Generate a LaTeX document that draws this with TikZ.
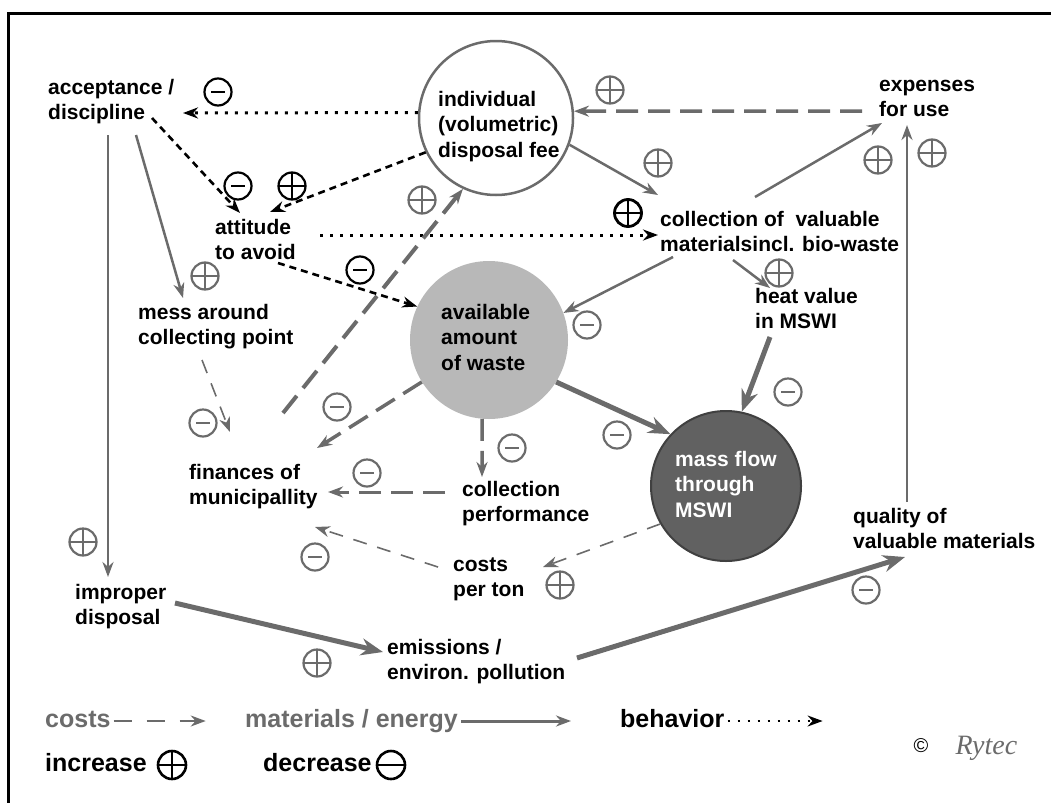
\documentclass[tikz,border=0pt]{standalone}
\usepackage{fontspec}
\setmainfont{Liberation Sans}
\newfontfamily\sigfont{Liberation Serif}
\usetikzlibrary{arrows.meta}
\definecolor{linegray}{gray}{0.42}
\definecolor{wastegray}{gray}{0.72}
\definecolor{massgray}{gray}{0.38}
\definecolor{massedge}{gray}{0.25}
\newcommand{\txtrows}[1]{\begin{tabular}[t]{@{}l@{}}#1\end{tabular}}

\begin{document}
\begin{tikzpicture}[x=1pt,y=-1pt,>={Stealth[length=15pt,width=11pt]}]
\tikzstyle{lbl}=[anchor=base west,inner sep=0pt,font=\bfseries\fontsize{21}{25.5}\selectfont]
\tikzstyle{legend}=[anchor=base west,inner sep=0pt,font=\bfseries\fontsize{25}{30}\selectfont]
\tikzstyle{sgn}=[circle,draw,line width=2.2pt,minimum size=27pt,inner sep=0pt]
\tikzstyle{incr}=[sgn,path picture={\draw[line width=2.4pt] (path picture bounding box.center) ++(-14,0) -- ++(28,0) (path picture bounding box.center) ++(0,-14) -- ++(0,28);}]
\tikzstyle{decr}=[sgn,path picture={\draw[line width=2.8pt] (path picture bounding box.center) ++(-7,0) -- ++(14,0);}]
\tikzstyle{gs}=[color=linegray]
\tikzstyle{mat}=[->,draw=linegray,line width=2.5pt]
\tikzstyle{matbig}=[-{Stealth[length=22pt,width=17pt]},draw=linegray,line width=5pt]
\tikzstyle{cost}=[->,draw=linegray,line width=3.5pt,dash pattern=on 22pt off 10pt]
\tikzstyle{costthin}=[->,draw=linegray,line width=1.6pt,dash pattern=on 14pt off 11pt]
\tikzstyle{behav}=[->,line width=3pt,dash pattern=on 3pt off 7pt]
\tikzstyle{behavdash}=[->,line width=2.6pt,dash pattern=on 7pt off 5pt]
\useasboundingbox (0,0) rectangle (1051,803);
\draw[line width=3pt] (1051,13) -- (8,13) -- (8,803);

\node[lbl] (acc) at (48,94) {\txtrows{acceptance /\\discipline}};
\node[lbl] (att) at (215,234) {\txtrows{attitude\\to avoid}};
\node[lbl] (mess) at (138,319) {\txtrows{mess around\\collecting point}};
\node[lbl] (fin) at (189,479) {\txtrows{finances of\\municipallity}};
\node[lbl] (imp) at (75,599) {\txtrows{improper\\disposal}};
\node[lbl] (emi) at (387,654) {\txtrows{emissions /\\environ. pollution}};
\node[lbl] (ton) at (453,571) {\txtrows{costs\\per ton}};
\node[lbl] (perf) at (462,496) {\txtrows{collection\\performance}};
\node[lbl] (coll) at (660,226) {\txtrows{collection of\ \ valuable\\materialsincl. bio-waste}};
\node[lbl] (heat) at (755,303) {\txtrows{heat value\\in MSWI}};
\node[lbl] (exp) at (879,91) {\txtrows{expenses\\for use}};
\node[lbl] (qual) at (853,523) {\txtrows{quality of\\valuable materials}};

\node[circle,draw=linegray,line width=2.5pt,fill=white,minimum size=154pt,inner sep=0pt] (fee) at (496,118) {};
\node[lbl] (feetxt) at (438,106) {\txtrows{individual\\(volumetric)\\disposal fee}};
\node[circle,fill=wastegray,minimum size=158pt,inner sep=0pt] (avail) at (489,340) {};
\node[lbl] (availtxt) at (441,319) {\txtrows{available\\amount\\of waste}};
\node[circle,draw=massedge,line width=2pt,fill=massgray,minimum size=150pt,inner sep=0pt] (mass) at (726,486) {};
\node[lbl,text=white] (masstxt) at (675,466) {\txtrows{mass flow\\through\\MSWI}};

\draw[behav] (fee.176) -- ([shift={(135,19)}]acc.base west);
\draw[cost] ([shift={(-17,20)}]exp.base west) -- (fee.5);
\draw[mat] (fee.-20) -- ([shift={(-2,-31)}]coll.base west);
\draw[mat] ([shift={(95,-29)}]coll.base west) -- ([shift={(3,32)}]exp.base west);
\draw[mat] ([shift={(54,-21)}]qual.base west) -- ([shift={(28,34)}]exp.base west);
\draw[behav] ([shift={(105,1)}]att.base west) -- ([shift={(-2,9)}]coll.base west);
\draw[behavdash] ([shift={(104,24)}]acc.base west) -- ([shift={(25,-21)}]att.base west);
\draw[behavdash] (fee.206) -- ([shift={(55,-22)}]att.base west);
\draw[behavdash] ([shift={(63,29)}]att.base west) -- (avail.155);
\draw[cost,line width=4pt] ([shift={(94,-66)}]fin.base west) -- (fee.245);
\draw[mat] ([shift={(13,31)}]coll.base west) -- (avail.20);
\draw[mat] ([shift={(73,34)}]coll.base west) -- ([shift={(15,-15)}]heat.base west);
\draw[matbig] ([shift={(15,34)}]heat.base west) -- (mass.78);
\draw[matbig] (avail.-32) -- (mass.137);
\draw[cost] (avail.212) -- ([shift={(128,-31)}]fin.base west);
\draw[cost] (avail.265) -- ([shift={(20,-19)}]perf.base west);
\draw[cost,line width=3pt] ([shift={(-17,-4)}]perf.base west) -- ([shift={(139,13)}]fin.base west);
\draw[mat] ([shift={(88,41)}]acc.base west) -- ([shift={(45,-21)}]mess.base west);
\draw[costthin] ([shift={(64,41)}]mess.base west) -- ([shift={(41,-47)}]fin.base west);
\draw[mat] ([shift={(60,41)}]acc.base west) -- ([shift={(33,-22)}]imp.base west);
\draw[matbig] ([shift={(100,4)}]imp.base west) -- ([shift={(-4,-2)}]emi.base west);
\draw[matbig] ([shift={(190,4)}]emi.base west) -- ([shift={(52,34)}]qual.base west);
\draw[costthin] (mass.210) -- ([shift={(90,-4)}]ton.base west);
\draw[costthin] ([shift={(-15,-4)}]ton.base west) -- ([shift={(126,48)}]fin.base west);

\node[incr,gs] (s1) at (610,90) {};
\node[incr,gs] (s2) at (658,163) {};
\node[incr,gs] (s3) at (878,160) {};
\node[incr,gs] (s4) at (932,153) {};
\node[incr,gs] (s5) at (422,200) {};
\node[incr,gs] (s6) at (779,273) {};
\node[decr,gs] (s7) at (587,325) {};
\node[decr,gs] (s8) at (788,392) {};
\node[decr,gs] (s9) at (617,435) {};
\node[decr,gs] (s10) at (337,407) {};
\node[decr,gs] (s11) at (512,448) {};
\node[decr,gs] (s12) at (367,473) {};
\node[incr,gs] (s13) at (205,276) {};
\node[decr,gs] (s14) at (203,423) {};
\node[incr,gs] (s15) at (83,542) {};
\node[incr,gs] (s16) at (317,663) {};
\node[decr,gs] (s17) at (866,590) {};
\node[incr,gs] (s18) at (560,585) {};
\node[decr,gs] (s19) at (315,557) {};
\node[decr] (b1) at (218,92) {};
\node[decr] (b2) at (238,186) {};
\node[incr] (b3) at (292,186) {};
\node[incr,line width=2.8pt] (b4) at (628,213) {};
\node[decr] (b5) at (360,270) {};

\node[legend,text=linegray] (lcost) at (45,727) {costs};
\draw[->,draw=linegray,line width=2pt,dash pattern=on 18pt off 15pt] ([shift={(3,-6)}]lcost.base east) -- ([shift={(95,-6)}]lcost.base east);
\node[legend,text=linegray] (lmat) at (245,727) {materials / energy};
\draw[mat,line width=3pt] ([shift={(3,-6)}]lmat.base east) -- ([shift={(113,-6)}]lmat.base east);
\node[legend] (lbeh) at (620,727) {behavior};
\draw[->,line width=2pt,dash pattern=on 2pt off 8pt] ([shift={(3,-6)}]lbeh.base east) -- ([shift={(98,-6)}]lbeh.base east);
\node[legend] (lincr) at (45,771) {increase};
\node[incr,line width=2.6pt,minimum size=28pt] (lplus) at (172,765) {};
\node[legend] (ldecr) at (263,771) {decrease};
\node[sgn,line width=2.6pt,minimum size=28pt,path picture={\draw[line width=2.6pt] (path picture bounding box.center) ++(-14,0) -- ++(28,0);}] (lminus) at (391,765) {};
\node[font=\fontsize{20}{22}\selectfont] (copy) at (921,746) {©};
\node[anchor=west,text=linegray,font=\sigfont\itshape\fontsize{28}{30}\selectfont] (rytec) at (952,748) {Rytec};
\end{tikzpicture}
\end{document}
